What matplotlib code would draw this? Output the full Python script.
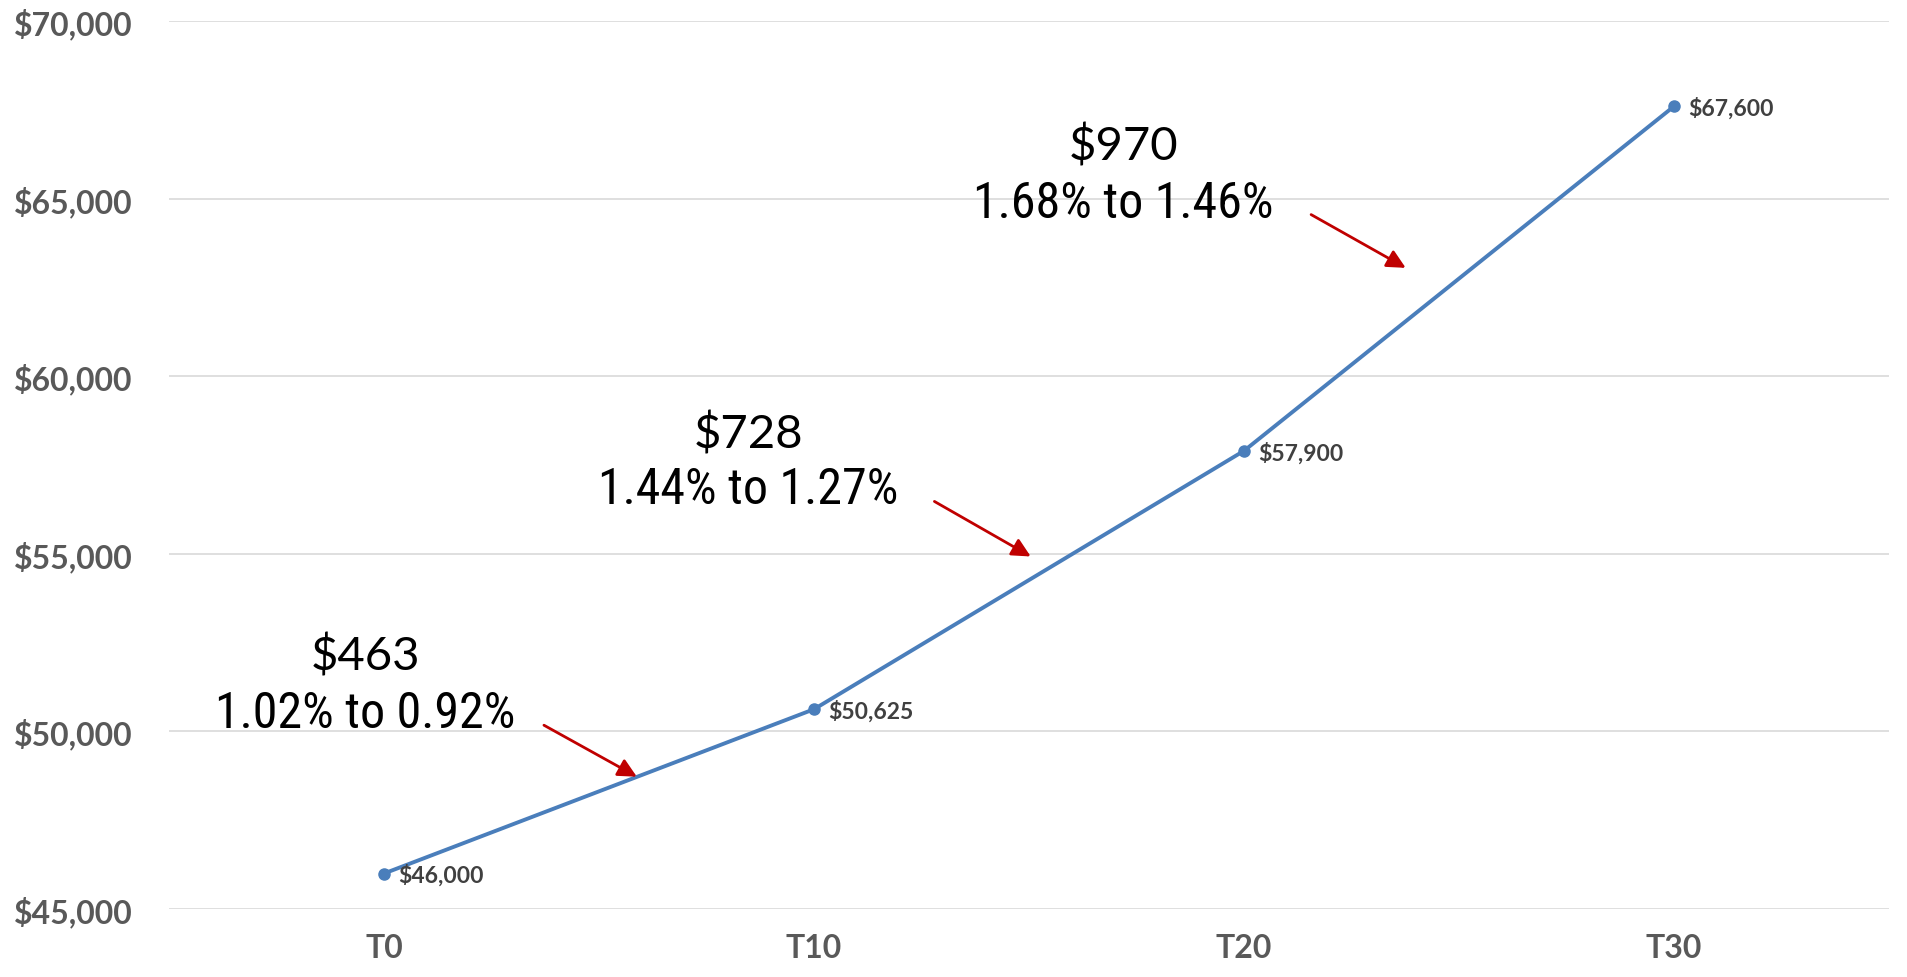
import matplotlib
matplotlib.use("Agg")
import matplotlib.pyplot as plt
from matplotlib import font_manager
from matplotlib.ticker import FuncFormatter

# data
periods = ["T0", "T10", "T20", "T30"]
values = [46000, 50625, 57900, 67600]
yticks = [45000, 50000, 55000, 60000, 65000, 70000]
notes_amt = ["$463", "$728", "$970"]
notes_pct = ["1.02% to 0.92%", "1.44% to 1.27%", "1.68% to 1.46%"]

BLUE = "#4a7ebb"
GRAY = "#595959"
RED = "#c00000"

fonts = font_manager.fontManager.ttflist
def pick(cands, bold=False):
    for c in cands:
        for f in fonts:
            if f.name == c and (not bold or f.weight in (600, 700, "bold", "semibold")):
                return c
    return "DejaVu Sans"

BOLD_FONT = pick(["Lato", "Open Sans", "Noto Sans", "Liberation Sans"], bold=True)
REG_FONT = pick(["Lato", "Open Sans", "Noto Sans"])
NARROW = pick(["Liberation Sans Narrow", "Roboto Condensed", "Open Sans Condensed",
               "Noto Sans Condensed", "DejaVu Sans Condensed"])
pct_size = 29 if NARROW == "DejaVu Sans" else 36

fig = plt.figure(figsize=(19.07, 9.78), dpi=100)
ax = fig.add_axes([0.0886, 0.0695, 0.902, 0.908])

x = list(range(len(periods)))
ax.plot(x, values, color=BLUE, lw=2.8, marker="o", ms=8, zorder=3)
for xi, v in zip(x, values):
    ax.annotate(f"${v:,}", (xi, v), xytext=(10, -1), textcoords="offset points",
                ha="left", va="center", fontsize=16.5, fontweight="bold",
                color="#404040", family=BOLD_FONT)

ax.set_xlim(-0.5, len(periods) - 0.5)
ax.set_ylim(yticks[0], yticks[-1])
ax.set_yticks(yticks)
ax.yaxis.set_major_formatter(FuncFormatter(lambda v, p: f"${v:,.0f}"))
ax.set_xticks(x)
ax.set_xticklabels(periods)
ax.grid(axis="y", color="#d9d9d9", lw=1.2)
ax.set_axisbelow(True)
for s in ax.spines.values():
    s.set_visible(False)
ax.tick_params(length=0, labelsize=23, labelcolor=GRAY)
ax.tick_params(axis="y", pad=26)
ax.tick_params(axis="x", pad=17)
for lab in ax.get_xticklabels() + ax.get_yticklabels():
    lab.set_fontweight("bold")
    lab.set_family(BOLD_FONT)

# annotations (axes fraction positions)
amt_pos = [(0.114, 0.285), (0.337, 0.536), (0.555, 0.860)]
pct_pos = [(0.114, 0.221), (0.337, 0.473), (0.555, 0.795)]
arrows = [((0.218, 0.207), (0.272, 0.149)),
          ((0.445, 0.459), (0.501, 0.397)),
          ((0.664, 0.782), (0.719, 0.722))]
for a, p, (tail, head), ap, pp in zip(notes_amt, notes_pct, arrows, amt_pos, pct_pos):
    ax.text(*ap, a, transform=ax.transAxes, ha="center", va="center",
            fontsize=34, family=REG_FONT, color="black")
    ax.text(*pp, p, transform=ax.transAxes, ha="center", va="center",
            fontsize=pct_size, family=NARROW, color="black")
    ax.annotate("", xy=head, xytext=tail, xycoords="axes fraction",
                textcoords="axes fraction",
                arrowprops=dict(arrowstyle="-|>", color=RED, lw=2,
                                mutation_scale=28, shrinkA=0, shrinkB=0))

fig.savefig("out.png", dpi=100)
